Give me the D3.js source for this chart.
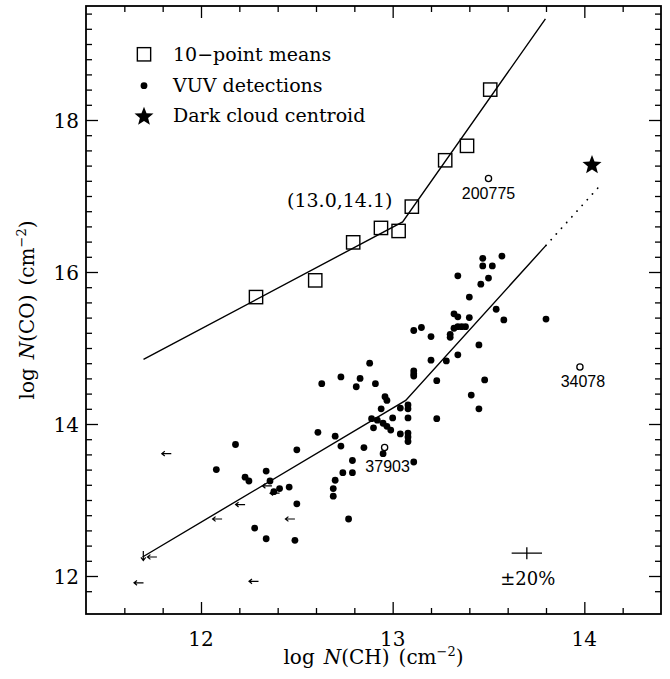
<!DOCTYPE html>
<html><head><meta charset="utf-8">
<script src="https://cdn.jsdelivr.net/npm/d3@7"></script>
<style>body{margin:0;background:#fff}svg{display:block}</style>
</head><body>
<script>
// ---------- data ----------
const meansCH = [12.287,12.596,12.794,12.939,13.031,13.10,13.274,13.388,13.509];
const meansCO = [15.67,15.89,16.39,16.58,16.54,16.86,17.47,17.66,18.40];

const detCH = [13.47,13.57,13.47,13.52,13.34,13.50,13.46,13.40,13.54,13.32,
 13.34,13.40,13.58,13.80,13.11,13.15,13.32,13.34,13.36,13.38,
 13.20,13.30,13.30,13.45,13.20,13.28,13.34,13.11,13.11,13.11,
 13.23,13.48,13.41,12.96,12.97,12.88,12.73,12.83,12.81,12.91,
 12.63,12.94,13.04,13.08,13.08,13.45,12.89,13.00,13.08,13.23,
 12.92,12.95,12.97,12.99,12.90,13.04,13.08,13.08,13.08,12.61,
 12.70,12.73,12.85,12.95,12.79,13.11,12.74,12.79,12.70,12.69,
 12.69,12.77,12.50,12.18,12.08,12.23,12.25,12.34,12.36,12.38,
 12.41,12.46,12.50,12.28,12.34,12.49];
const detCO = [16.18,16.21,16.08,16.08,15.95,15.92,15.84,15.67,15.51,15.45,
 15.41,15.40,15.37,15.38,15.23,15.27,15.26,15.28,15.28,15.28,
 15.15,15.18,15.14,15.04,14.84,14.83,14.91,14.70,14.66,14.63,
 14.57,14.58,14.38,14.36,14.31,14.80,14.62,14.60,14.49,14.53,
 14.53,14.20,14.21,14.25,14.20,14.20,14.07,14.08,14.08,14.07,
 14.05,14.01,13.97,13.92,13.95,13.87,13.88,13.83,13.77,13.89,
 13.84,13.71,13.69,13.61,13.52,13.50,13.36,13.36,13.26,13.15,
 13.05,12.75,13.66,13.73,13.40,13.30,13.25,13.38,13.25,13.11,
 13.15,13.17,12.95,12.63,12.49,12.47];

// upper limits in N(CH) (left arrows)
const limCH = [11.845,12.37,12.41,12.23,12.11,12.49,11.77,11.70,12.30];
const limCO = [13.61,13.185,13.09,12.94,12.75,12.75,12.25,11.91,11.93];
// upper limit in N(CO) (down arrow)
const downCH = [11.699];
const downCO = [12.33];

// special sight lines (open circles)
const openCH = [13.50,13.977,12.958];
const openCO = [17.23,14.75,13.69];
const openLabels = ["200775","34078","37903"];

const centroidCH = [14.04];
const centroidCO = [17.42];

const upperFitCH = [11.70,13.052,13.797];
const upperFitCO = [14.85,16.66,19.33];
const lowerFitCH = [11.695,13.068,13.80];
const lowerFitCO = [12.25,14.31,16.35];
const extFitCH = [13.80,14.083];
const extFitCO = [16.35,17.14];

const errCH = [13.70];
const errCO = [12.30];
const errLabel = "±20%";

const xMajor = [12,13,14];
const yMajor = [12,14,16,18];
const legendLabels = ["10−point means","VUV detections","Dark cloud centroid"];
const breakLabel = "(13.0,14.1)";

// ---------- layout ----------
const W = 670, H = 679;
const L = 86, R = 661, T = 6, B = 614;
const x = d3.scaleLinear().domain([11.4,14.4]).range([L,R]);
const y = d3.scaleLinear().domain([11.5,19.5]).range([B,T]);
const serif = "'DejaVu Serif', serif";
const sans = "'Liberation Sans', Arial, sans-serif";

const svg = d3.select("body").append("svg").attr("width",W).attr("height",H);

// ---------- axes ----------
function minorTicks(lo, hi){ const a=[]; for(let v=Math.round(lo*5)+1; v<Math.round(hi*5); v++) a.push(v/5); return a; }
const xMinor = minorTicks(11.4,14.4).filter(v=>!xMajor.some(m=>Math.abs(m-v)<1e-6));
const yMinor = minorTicks(11.5,19.5).filter(v=>!yMajor.some(m=>Math.abs(m-v)<1e-6));

const axisG = svg.append("g");
function addAxis(axisFn, scale, major, minor, transform){
  const gMaj = axisG.append("g").attr("transform",transform)
    .call(axisFn(scale).tickValues(major).tickSizeInner(-12).tickSizeOuter(0).tickFormat(""));
  const gMin = axisG.append("g").attr("transform",transform)
    .call(axisFn(scale).tickValues(minor).tickSizeInner(-6).tickSizeOuter(0).tickFormat(""));
  [gMaj,gMin].forEach(g=>{ g.select(".domain").remove(); g.selectAll("line").attr("stroke","#000").attr("stroke-width",1.3); });
}
addAxis(d3.axisBottom, x, xMajor, xMinor, `translate(0,${B})`);
addAxis(d3.axisTop, x, xMajor, xMinor, `translate(0,${T})`);
addAxis(d3.axisLeft, y, yMajor, yMinor, `translate(${L},0)`);
addAxis(d3.axisRight, y, yMajor, yMinor, `translate(${R},0)`);

svg.append("rect").attr("x",L).attr("y",T).attr("width",R-L).attr("height",B-T)
  .attr("fill","none").attr("stroke","#000").attr("stroke-width",1.8);

// tick labels
svg.append("g").selectAll("text").data(xMajor).join("text")
  .attr("x",d=>x(d)).attr("y",B+32).attr("text-anchor","middle")
  .attr("font-family",serif).attr("font-size",20).text(d=>d);
svg.append("g").selectAll("text").data(yMajor).join("text")
  .attr("x",L-7).attr("y",d=>y(d)+8).attr("text-anchor","end")
  .attr("font-family",serif).attr("font-size",20).text(d=>d);

// axis titles
function title(g, mol){
  g.attr("font-family",serif).attr("font-size",20).attr("text-anchor","middle");
  const t = g.append("text");
  t.append("tspan").text("log");
  t.append("tspan").attr("dx",9).attr("font-style","italic").text("N");
  t.append("tspan").text("(" + mol + ")");
  t.append("tspan").attr("dx",9).text("(cm");
  t.append("tspan").attr("dy",-8).attr("font-size",13).text("−2");
  t.append("tspan").attr("dy",8).text(")");
  return t;
}
title(svg.append("g").attr("transform",`translate(${(L+R)/2},664)`), "CH");
title(svg.append("g").attr("transform",`translate(34,${(T+B)/2}) rotate(-90)`), "CO");

// ---------- fits ----------
const line = d3.line().x(d=>x(d[0])).y(d=>y(d[1]));
const plot = svg.append("g");
plot.append("path").datum(upperFitCH.map((v,i)=>[v,upperFitCO[i]])).attr("d",line)
  .attr("fill","none").attr("stroke","#000").attr("stroke-width",1.4);
plot.append("path").datum(lowerFitCH.map((v,i)=>[v,lowerFitCO[i]])).attr("d",line)
  .attr("fill","none").attr("stroke","#000").attr("stroke-width",1.4);
plot.append("path").datum(extFitCH.map((v,i)=>[v,extFitCO[i]])).attr("d",line)
  .attr("fill","none").attr("stroke","#000").attr("stroke-width",1.8)
  .attr("stroke-linecap","round").attr("stroke-dasharray","0.1,7.6");

// ---------- markers ----------
function starPath(Ro, Ri){
  const pts=[];
  for(let i=0;i<10;i++){ const r=i%2?Ri:Ro; const a=-Math.PI/2+i*Math.PI/5; pts.push([r*Math.cos(a), r*Math.sin(a)]); }
  return "M"+pts.map(p=>p[0].toFixed(2)+","+p[1].toFixed(2)).join("L")+"Z";
}
const SQ = 13.3;
plot.selectAll(".mean").data(meansCH.map((v,i)=>[v,meansCO[i]])).join("rect")
  .attr("x",d=>x(d[0])-SQ/2).attr("y",d=>y(d[1])-SQ/2).attr("width",SQ).attr("height",SQ)
  .attr("fill","none").attr("stroke","#000").attr("stroke-width",1.4);

plot.selectAll(".det").data(detCH.map((v,i)=>[v,detCO[i]])).join("circle")
  .attr("cx",d=>x(d[0])).attr("cy",d=>y(d[1])).attr("r",3.4).attr("fill","#000");

// left arrows
const AL = 9.5, AH = 3, AW = 2.4;
plot.selectAll(".lim").data(limCH.map((v,i)=>[v,limCO[i]])).join("path")
  .attr("d",d=>{ const px=x(d[0]), py=y(d[1]); const tx=px-AL;
    return `M${px},${py}L${tx},${py}M${tx+AH},${py-AW}L${tx},${py}L${tx+AH},${py+AW}`; })
  .attr("fill","none").attr("stroke","#000").attr("stroke-width",1.2);
plot.selectAll(".down").data(downCH.map((v,i)=>[v,downCO[i]])).join("path")
  .attr("d",d=>{ const px=x(d[0]), py=y(d[1]); const ty=py+AL;
    return `M${px},${py}L${px},${ty}M${px-AW},${ty-AH}L${px},${ty}L${px+AW},${ty-AH}`; })
  .attr("fill","none").attr("stroke","#000").attr("stroke-width",1.2);

// open circles with labels
plot.selectAll(".open").data(openCH.map((v,i)=>[v,openCO[i]])).join("circle")
  .attr("cx",d=>x(d[0])).attr("cy",d=>y(d[1])).attr("r",3.1)
  .attr("fill","#fff").attr("stroke","#000").attr("stroke-width",1.3);
const labOff = [[0,20],[3,20],[3,24.5]];
plot.selectAll(".olab").data(openLabels).join("text")
  .attr("x",(d,i)=>x(openCH[i])+labOff[i][0]).attr("y",(d,i)=>y(openCO[i])+labOff[i][1])
  .attr("text-anchor","middle").attr("font-family",sans).attr("font-size",16).text(d=>d);

// centroid star
plot.selectAll(".cent").data(centroidCH.map((v,i)=>[v,centroidCO[i]])).join("path")
  .attr("transform",d=>`translate(${x(d[0])},${y(d[1])+1})`).attr("d",starPath(10,4.3)).attr("fill","#000");

// break label
plot.append("text").attr("x",287).attr("y",207).attr("font-family",serif).attr("font-size",19).text(breakLabel);

// error cross
const ef = Math.log10(1.2);
plot.append("path").attr("d",
  `M${x(errCH[0]-ef)},${y(errCO[0])}L${x(errCH[0]+ef)},${y(errCO[0])}M${x(errCH[0])},${y(errCO[0]-ef)}L${x(errCH[0])},${y(errCO[0]+ef)}`)
  .attr("stroke","#000").attr("stroke-width",1.3).attr("fill","none");
plot.append("text").attr("x",x(errCH[0])+1).attr("y",y(errCO[0])+32).attr("text-anchor","middle")
  .attr("font-family",serif).attr("font-size",18).text(errLabel);

// ---------- legend ----------
const leg = svg.append("g").attr("font-family",serif).attr("font-size",19);
const legX = 144, legY = [54.3,85.7,115.7];
leg.append("rect").attr("x",legX-SQ/2).attr("y",legY[0]-SQ/2).attr("width",SQ).attr("height",SQ)
  .attr("fill","none").attr("stroke","#000").attr("stroke-width",1.4);
leg.append("circle").attr("cx",legX).attr("cy",legY[1]).attr("r",3.4).attr("fill","#000");
leg.append("path").attr("transform",`translate(${legX},${legY[2]+1})`).attr("d",starPath(10,4.3)).attr("fill","#000");
leg.selectAll("text").data(legendLabels).join("text")
  .attr("x",173).attr("y",(d,i)=>legY[i]+6.5).text(d=>d);
</script>
</body></html>
